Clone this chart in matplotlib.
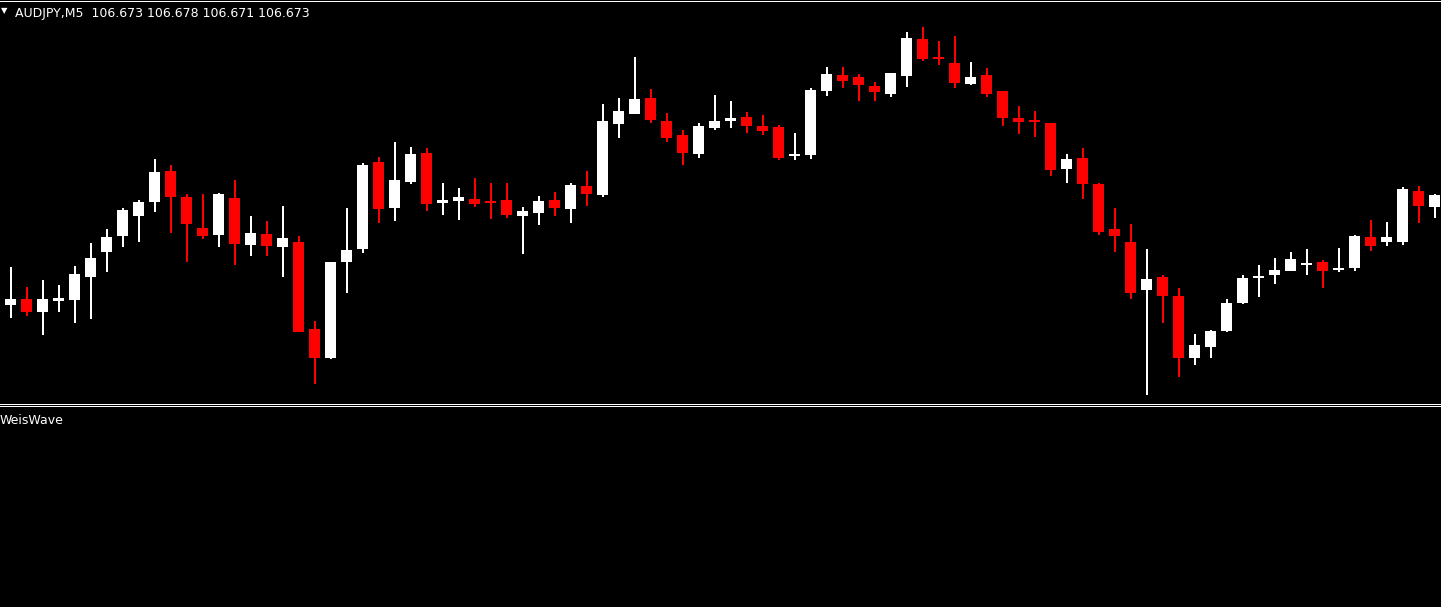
import numpy as np
import matplotlib
matplotlib.use('Agg')
import matplotlib.pyplot as plt
from matplotlib.lines import Line2D

# AUDJPY M5 candles (open, high, low, close)
opens = [106.563, 106.569, 106.556, 106.567, 106.568, 106.591, 106.616, 106.632, 106.652, 106.666,
         106.697, 106.671, 106.640, 106.633, 106.670, 106.623, 106.634, 106.621, 106.626, 106.539,
         106.510, 106.606, 106.619, 106.706, 106.660, 106.686, 106.715, 106.665, 106.667, 106.669,
         106.667, 106.668, 106.652, 106.655, 106.668, 106.659, 106.682, 106.673, 106.744, 106.754,
         106.770, 106.747, 106.733, 106.714, 106.740, 106.747, 106.751, 106.742, 106.741, 106.712,
         106.713, 106.777, 106.793, 106.791, 106.782, 106.774, 106.792, 106.829, 106.811, 106.805,
         106.784, 106.793, 106.777, 106.750, 106.748, 106.745, 106.699, 106.710, 106.684, 106.639,
         106.626, 106.578, 106.591, 106.572, 106.510, 106.521, 106.537, 106.565, 106.590, 106.593,
         106.597, 106.603, 106.606, 106.598, 106.600, 106.631, 106.626, 106.626, 106.677, 106.661]
highs = [106.601, 106.581, 106.588, 106.583, 106.602, 106.625, 106.639, 106.660, 106.668, 106.709,
         106.703, 106.674, 106.674, 106.675, 106.688, 106.652, 106.647, 106.662, 106.632, 106.547,
         106.606, 106.660, 106.705, 106.711, 106.726, 106.721, 106.720, 106.685, 106.680, 106.690,
         106.685, 106.685, 106.661, 106.672, 106.676, 106.685, 106.697, 106.764, 106.770, 106.811,
         106.779, 106.755, 106.738, 106.745, 106.773, 106.767, 106.756, 106.753, 106.743, 106.735,
         106.780, 106.801, 106.801, 106.794, 106.786, 106.795, 106.836, 106.841, 106.827, 106.832,
         106.806, 106.800, 106.777, 106.762, 106.757, 106.745, 106.714, 106.720, 106.685, 106.660,
         106.644, 106.619, 106.593, 106.580, 106.534, 106.538, 106.569, 106.593, 106.603, 106.610,
         106.616, 106.619, 106.608, 106.620, 106.633, 106.648, 106.646, 106.681, 106.682, 106.674]
lows = [106.550, 106.552, 106.533, 106.556, 106.545, 106.549, 106.596, 106.621, 106.626, 106.656,
        106.635, 106.606, 106.629, 106.621, 106.603, 106.612, 106.612, 106.591, 106.536, 106.484,
        106.509, 106.575, 106.615, 106.645, 106.647, 106.684, 106.657, 106.653, 106.648, 106.661,
        106.649, 106.650, 106.614, 106.643, 106.652, 106.645, 106.662, 106.671, 106.730, 106.754,
        106.745, 106.726, 106.703, 106.710, 106.738, 106.740, 106.735, 106.733, 106.708, 106.708,
        106.709, 106.772, 106.780, 106.767, 106.767, 106.771, 106.781, 106.807, 106.803, 106.780,
        106.783, 106.771, 106.742, 106.734, 106.731, 106.692, 106.685, 106.669, 106.633, 106.616,
        106.569, 106.473, 106.545, 106.491, 106.503, 106.510, 106.536, 106.564, 106.571, 106.584,
        106.597, 106.593, 106.580, 106.596, 106.597, 106.617, 106.622, 106.623, 106.645, 106.650]
closes = [106.569, 106.556, 106.569, 106.570, 106.594, 106.610, 106.631, 106.658, 106.666, 106.696,
          106.671, 106.644, 106.632, 106.674, 106.624, 106.635, 106.622, 106.630, 106.536, 106.510,
          106.606, 106.618, 106.703, 106.659, 106.688, 106.714, 106.664, 106.668, 106.671, 106.664,
          106.665, 106.653, 106.657, 106.667, 106.660, 106.683, 106.674, 106.747, 106.757, 106.769,
          106.748, 106.730, 106.715, 106.742, 106.747, 106.750, 106.742, 106.737, 106.710, 106.714,
          106.778, 106.794, 106.787, 106.783, 106.776, 106.795, 106.830, 106.809, 106.809, 106.785,
          106.791, 106.774, 106.750, 106.746, 106.746, 106.698, 106.709, 106.684, 106.636, 106.632,
          106.575, 106.589, 106.572, 106.510, 106.523, 106.537, 106.565, 106.590, 106.592, 106.598,
          106.609, 106.605, 106.597, 106.600, 106.632, 106.622, 106.631, 106.679, 106.662, 106.673]

title = "AUDJPY,M5  106.673 106.678 106.671 106.673"
indicator = "WeisWave"

W, H = 1441, 607
fig = plt.figure(figsize=(W / 100, H / 100), dpi=100, facecolor='black')

top_px = 403
ax = fig.add_axes([0, (H - top_px) / H, 1, (top_px - 1) / H])
ax2 = fig.add_axes([0, 0, 1, (H - 406) / H])

for a in (ax, ax2):
    a.set_facecolor('black')
    a.set_xticks([])
    a.set_yticks([])
    for s in a.spines.values():
        s.set_visible(False)

# window frame lines: top edge, bottom of price pane, top of indicator pane
for ypx in (0.5, 403.5, 405.5):
    fig.add_artist(Line2D([0, 1], [1 - ypx / H, 1 - ypx / H], transform=fig.transFigure,
                          color='white', linewidth=0.72, antialiased=False))

o = np.array(opens)
h = np.array(highs)
l = np.array(lows)
c = np.array(closes)
x = np.arange(len(o))
up = c >= o
cols = np.where(up, 'white', '#ff0000')

ax.vlines(x, l, h, colors=cols, linewidth=1.1, antialiased=False)
bottoms = np.minimum(o, c)
heights = np.maximum(np.abs(c - o), 0.0012)
ax.bar(x, heights, bottom=bottoms, width=11 / 16, color=cols, edgecolor='none',
       antialiased=False)

ax.set_xlim(-10.5 / 16, (W - 10.5) / 16)
ax.set_ylim(106.867 - 0.402, 106.867)
ax2.set_xlim(0, 1)
ax2.set_ylim(0, 1)

fig.text(1 / W, 1 - 13 / H, "\u25bc", color='white', fontsize=6, family='DejaVu Sans')
fig.text(15 / W, 1 - 17 / H, title, color='white', fontsize=9, family='DejaVu Sans')
fig.text(0, 1 - 424 / H, indicator, color='white', fontsize=9, family='DejaVu Sans')

fig.savefig('out.png', dpi=100, facecolor='black')
